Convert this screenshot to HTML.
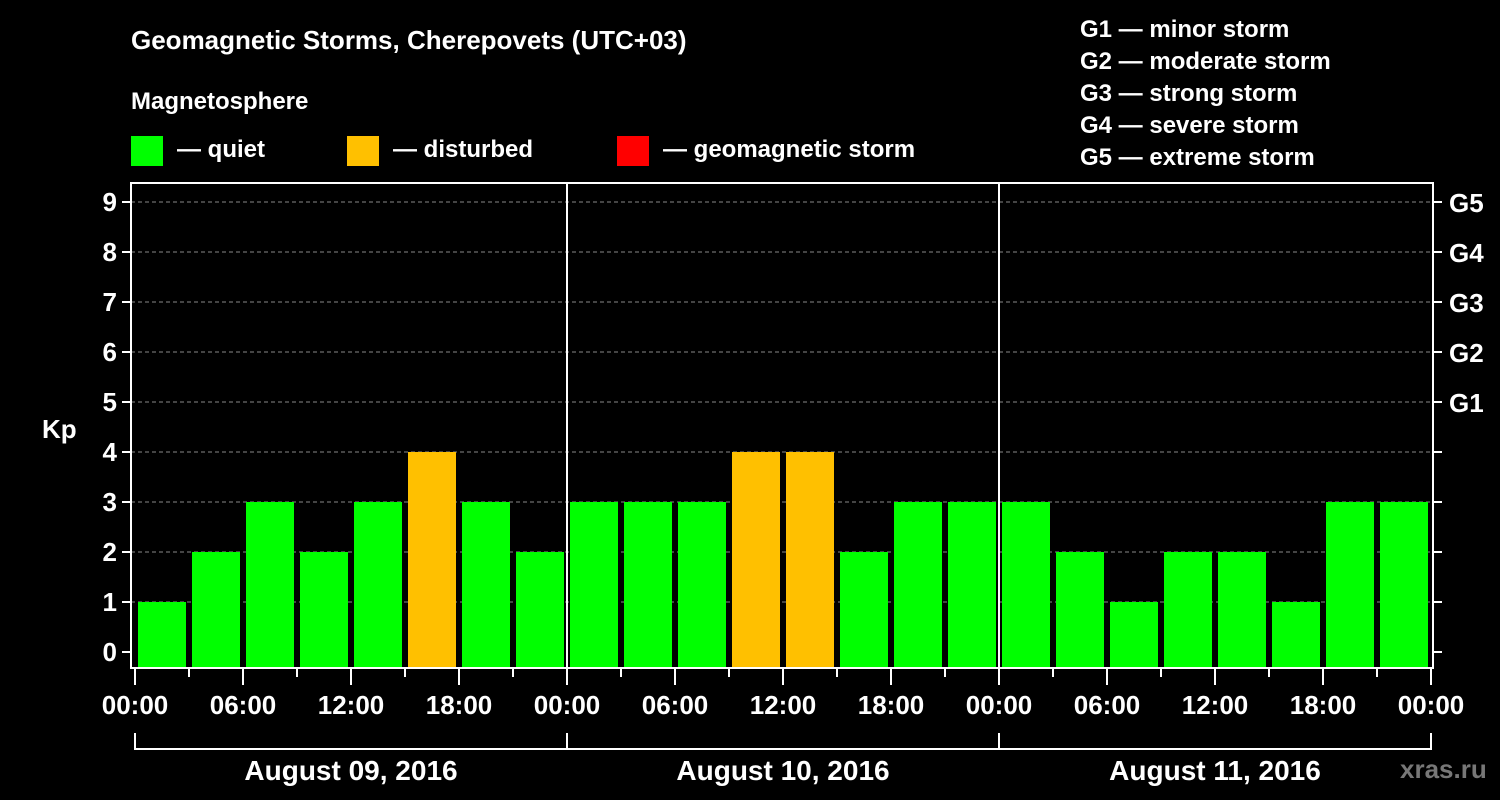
<!DOCTYPE html>
<html><head><meta charset="utf-8"><style>
body{margin:0;background:#000;}
svg{display:block;font-family:"Liberation Sans",sans-serif;font-weight:bold;}
</style></head><body>
<svg id="c" width="1500" height="800">
<rect width="1500" height="800" fill="#000"/>
<text x="131" y="49" fill="#fff" font-size="26">Geomagnetic Storms, Cherepovets (UTC+03)</text>
<text x="131" y="109" fill="#fff" font-size="24">Magnetosphere</text>
<g><rect x="131" y="136" width="32" height="30" fill="#00ff00"/><text x="177" y="157" fill="#fff" font-size="24">— quiet</text></g>
<g><rect x="347" y="136" width="32" height="30" fill="#ffc000"/><text x="393" y="157" fill="#fff" font-size="24">— disturbed</text></g>
<g><rect x="617" y="136" width="32" height="30" fill="#ff0000"/><text x="663" y="157" fill="#fff" font-size="24">— geomagnetic storm</text></g>
<g fill="#fff" font-size="24">
<text x="1080" y="37">G1 — minor storm</text><text x="1080" y="69">G2 — moderate storm</text><text x="1080" y="101">G3 — strong storm</text><text x="1080" y="133">G4 — severe storm</text><text x="1080" y="165">G5 — extreme storm</text></g>
<text x="42" y="438" fill="#fff" font-size="26">Kp</text>
<text x="1400" y="778" fill="#777" font-size="26">xras.ru</text>
<g id="plot"></g>
</svg>
<script>
const kpValues=[1,2,3,2,3,4,3,2, 3,3,3,4,4,2,3,3, 3,2,1,2,2,1,3,3];
const yTicks=[0,1,2,3,4,5,6,7,8,9];
const gLabels=["G1","G2","G3","G4","G5"];
const timeLabels=["00:00","06:00","12:00","18:00"];
const dayLabels=["August 09, 2016","August 10, 2016","August 11, 2016"];
const NS="http://www.w3.org/2000/svg";
const g=document.getElementById('plot');
const L=131,R=1433,T=183,B=668,X0=135,DAY=432;
const y=v=>652-50*v;
const x=h=>X0+h*DAY/24;
function mk(t,a){const e=document.createElementNS(NS,t);for(const k in a)e.setAttribute(k,a[k]);g.appendChild(e);return e;}
yTicks.forEach(v=>{
 if(v>0){const l=mk('line',{x1:L,x2:R,y1:y(v),y2:y(v),stroke:'#888','stroke-dasharray':'4,3','stroke-width':1});
 
 }
 mk('line',{x1:L-9,x2:L,y1:y(v),y2:y(v),stroke:'#fff','stroke-width':2});
 mk('line',{x1:R,x2:R+9,y1:y(v),y2:y(v),stroke:'#fff','stroke-width':2});
 const t=mk('text',{x:L-14,y:y(v)+9,fill:'#fff','font-size':26,'text-anchor':'end'});t.textContent=v;
 
 
});
gLabels.forEach((s,i)=>{const t=mk('text',{x:R+16,y:y(5+i)+10,fill:'#fff','font-size':26});t.textContent=s;
 
 });
kpValues.forEach((v,i)=>{
 const c=v>=5?'#ff0000':v>=4?'#ffc000':'#00ff00';
 const r=mk('rect',{x:x(i*3)+3,y:y(v),width:DAY/8-6,height:B-y(v),fill:c});
 
 
});
mk('rect',{x:L,y:T,width:R-L,height:B-T,fill:'none',stroke:'#fff','stroke-width':2});
for(let d=1;d<3;d++)mk('line',{x1:x(d*24),x2:x(d*24),y1:T,y2:B,stroke:'#fff','stroke-width':2});
for(let i=0;i<=24;i++){
 const major=i%2===0;
 mk('line',{x1:x(i*3),x2:x(i*3),y1:B,y2:B+(major?17:9),stroke:'#fff','stroke-width':2});
 if(major){const t=mk('text',{x:x(i*3),y:B+46,fill:'#fff','font-size':26,'text-anchor':'middle'});t.textContent=timeLabels[(i/2)%4];
 
 }
}
dayLabels.forEach((s,d)=>{
 mk('line',{x1:x(d*24),x2:x(d*24),y1:733,y2:750,stroke:'#fff','stroke-width':2});
 mk('line',{x1:x(d*24),x2:x(d*24+24),y1:749,y2:749,stroke:'#fff','stroke-width':2});
 const t=mk('text',{x:x(d*24+12),y:780,fill:'#fff','font-size':28,'text-anchor':'middle'});t.textContent=s;
 
 
});
mk('line',{x1:x(72),x2:x(72),y1:733,y2:750,stroke:'#fff','stroke-width':2});
</script>
</body></html>
